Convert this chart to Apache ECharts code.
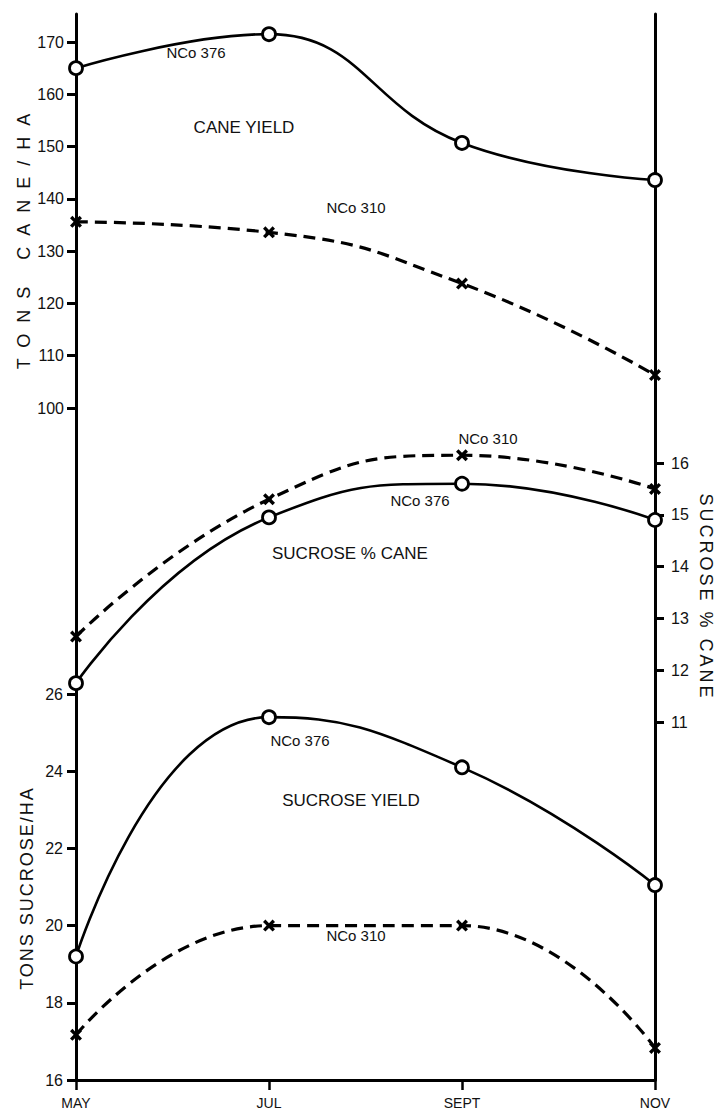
<!DOCTYPE html>
<html>
<head>
<meta charset="utf-8">
<script src="https://cdn.jsdelivr.net/npm/echarts@6/dist/echarts.min.js"></script>
<style>
html,body{margin:0;padding:0;background:#fff;}
#c{width:719px;height:1117px;}
</style>
</head>
<body>
<div id="c"></div>
<script>
// ---- data ----
const months = ['MAY', 'JUL', 'SEPT', 'NOV'];

const caneNCo376 = [165.0, 171.5, 150.7, 143.6];
const caneNCo310 = [135.6, 133.6, 123.8, 106.3];

const sucrosePctNCo376 = [11.75, 14.95, 15.6, 14.9];
const sucrosePctNCo310 = [12.65, 15.3, 16.15, 15.5];

const sucroseYieldNCo376 = [19.2, 25.4, 24.1, 21.05];
const sucroseYieldNCo310 = [17.17, 20.0, 20.0, 16.83];

const caneTicks = [100, 110, 120, 130, 140, 150, 160, 170];
const sucrosePctTicks = [11, 12, 13, 14, 15, 16];
const sucroseYieldTicks = [16, 18, 20, 22, 24, 26];

// ---- chart ----
const FONT = '"Liberation Sans", Arial, Helvetica, sans-serif';
const chart = echarts.init(document.getElementById('c'), null, {renderer: 'svg', width: 719, height: 1117});

const L = 76, R = 64;
const grids = [
  {left: L, right: R, top: 14, bottom: 37},
  {left: L, right: R, top: 42, height: 366},
  {left: L, right: R, top: 463, height: 259},
  {left: L, right: R, top: 694, bottom: 37}
];

const xAxes = grids.map((g, i) => ({
  gridIndex: i,
  type: 'category',
  data: months,
  boundaryGap: false,
  show: i === 0,
  axisLine: {show: true, lineStyle: {color: '#000', width: 3}},
  axisTick: {show: true, length: 10, lineStyle: {color: '#000', width: 2.5}},
  axisLabel: {color: '#111', fontSize: 14, margin: 16, fontFamily: FONT},
  splitLine: {show: false}
}));

function valueAxis(grid, pos, ticks, fs, margin) {
  return {
    gridIndex: grid, type: 'value', position: pos,
    min: ticks[0], max: ticks[ticks.length - 1], interval: ticks[1] - ticks[0],
    axisLine: {show: false},
    axisTick: {show: true, length: 9, lineStyle: {color: '#000', width: 3}},
    axisLabel: {color: '#111', fontSize: fs, margin: margin, fontFamily: FONT},
    splitLine: {show: false}
  };
}
const frameAxis = pos => ({
  gridIndex: 0, type: 'value', position: pos, min: 0, max: 1,
  axisLine: {show: true, lineStyle: {color: '#000', width: 3}},
  axisTick: {show: false}, axisLabel: {show: false}, splitLine: {show: false}
});

const yAxes = [
  frameAxis('left'),
  frameAxis('right'),
  valueAxis(1, 'left', caneTicks, 16, 12),
  valueAxis(2, 'right', sucrosePctTicks, 16, 16),
  valueAxis(3, 'left', sucroseYieldTicks, 16, 13)
];

const CROSS = 'path://M0,2L2,0L5,3L8,0L10,2L7,5L10,8L8,10L5,7L2,10L0,8L3,5Z';
function line(name, data, xi, yi, dashed, smooth) {
  return {
    name: name, type: 'line', xAxisIndex: xi, yAxisIndex: yi, data: data,
    smooth: smooth, clip: false, z: 5,
    symbol: dashed ? CROSS : 'circle',
    symbolSize: dashed ? 12 : 13,
    itemStyle: dashed ? {color: '#000'} : {color: '#fff', borderColor: '#000', borderWidth: 2.8},
    lineStyle: dashed ? {color: '#000', width: 3.2, type: [12, 7]} : {color: '#000', width: 2.6},
    emphasis: {disabled: true}
  };
}

const series = [
  line('NCo 376', caneNCo376, 1, 2, false, 0.45),
  line('NCo 310', caneNCo310, 1, 2, true, 0.5),
  line('NCo 376', sucrosePctNCo376, 2, 3, false, 0.5),
  line('NCo 310', sucrosePctNCo310, 2, 3, true, 0.5),
  line('NCo 376', sucroseYieldNCo376, 3, 4, false, 0.5),
  line('NCo 310', sucroseYieldNCo310, 3, 4, true, 0.5)
];

function txt(t, x, y, fs, align, rot) {
  return {
    type: 'text', x: x, y: y, rotation: rot || 0, z: 10,
    style: {text: t, fill: '#111', font: fs + 'px ' + FONT, textAlign: align || 'center', textVerticalAlign: 'middle'}
  };
}

const graphics = [
  txt('NCo 376', 196, 52, 15),
  txt('CANE YIELD', 244, 127, 17),
  txt('NCo 310', 356, 207, 15),
  txt('NCo 310', 488, 438, 15),
  txt('NCo 376', 420, 500, 15),
  txt('SUCROSE % CANE', 272, 553, 17, 'left'),
  txt('NCo 376', 300, 740, 15),
  txt('SUCROSE YIELD', 351, 800, 17),
  txt('NCo 310', 356, 935, 15),
  txt('TONS CANE/HA', 24, 236, 18, 'center', Math.PI / 2),
  txt('TONS SUCROSE/HA', 27, 888, 18, 'center', Math.PI / 2),
  txt('SUCROSE % CANE', 706, 597, 18, 'center', -Math.PI / 2)
];

chart.setOption({
  animation: false,
  backgroundColor: '#fff',
  textStyle: {fontFamily: FONT},
  grid: grids,
  xAxis: xAxes,
  yAxis: yAxes,
  series: series,
  graphic: graphics
});

// widen letter spacing on the rotated axis titles (as in the original lettering)
function spaceTitles() {
  const spacing = {'TONS CANE/HA': 11, 'SUCROSE % CANE': 3, 'TONS SUCROSE/HA': 2};
  document.querySelectorAll('#c text').forEach(t => {
    const s = t.textContent.trim();
    if (spacing[s] === undefined) return;
    const m = /matrix\(([^)]+)\)/.exec(t.getAttribute('transform') || '');
    if (!m) return;
    const p = m[1].split(/[ ,]+/).map(Number);
    if (Math.abs(p[1]) > 0.5) t.setAttribute('letter-spacing', spacing[s]);
  });
}
spaceTitles();
chart.on('finished', spaceTitles);
</script>
</body>
</html>
